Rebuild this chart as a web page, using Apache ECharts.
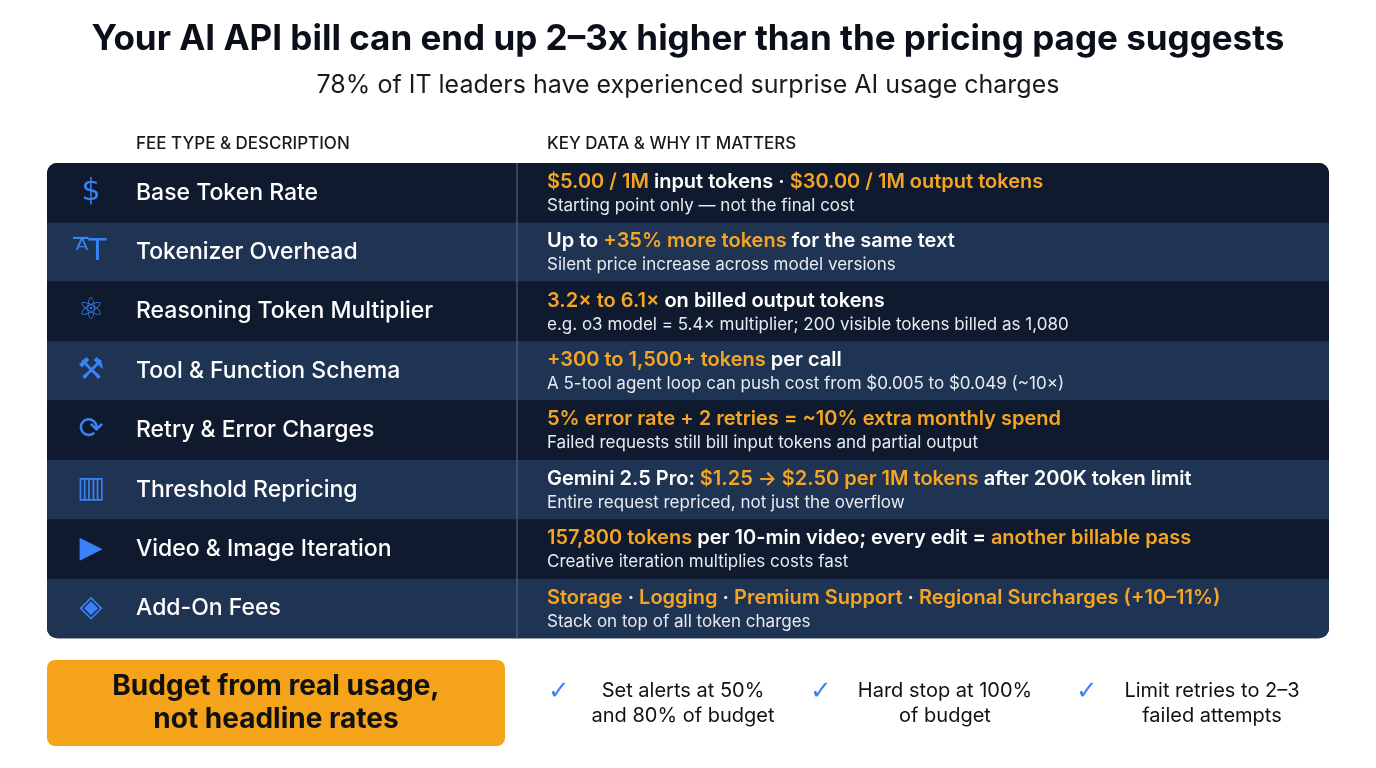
<!DOCTYPE html>
<html><head><meta charset="utf-8">
<script src="https://cdn.jsdelivr.net/npm/echarts@6/dist/echarts.min.js"></script>
<style>html,body{margin:0;background:#fff}#c{width:1376px;height:768px}</style>
</head><body><div id="c"></div>
<script>
const title = "Your AI API bill can end up 2–3x higher than the pricing page suggests";
const subtitle = "78% of IT leaders have experienced surprise AI usage charges";
const headers = ["FEE TYPE & DESCRIPTION", "KEY DATA & WHY IT MATTERS"];
const feeTypes = ["Base Token Rate","Tokenizer Overhead","Reasoning Token Multiplier","Tool & Function Schema","Retry & Error Charges","Threshold Repricing","Video & Image Iteration","Add-On Fees"];
const icons = ["$","ᴬ̅T","⚛","⚒","⟳","▥","▶","◈"];
// key line: segments [text, highlighted?]
const keyLines = [
 [["$5.00 / 1M",1],[" input tokens · ",0],["$30.00 / 1M output tokens",1]],
 [["Up to ",0],["+35% more tokens",1],[" for the same text",0]],
 [["3.2× to 6.1×",1],[" on billed output tokens",0]],
 [["+300 to 1,500+ tokens",1],[" per call",0]],
 [["5% error rate + 2 retries = ~10% extra monthly spend",1]],
 [["Gemini 2.5 Pro: ",0],["$1.25 → $2.50 per 1M tokens",1],[" after 200K token limit",0]],
 [["157,800 tokens",1],[" per 10-min video; every edit = ",0],["another billable pass",1]],
 [["Storage",1],[" · ",0],["Logging",1],[" · ",0],["Premium Support",1],[" · ",0],["Regional Surcharges (+10–11%)",1]]
];
const whyLines = ["Starting point only — not the final cost","Silent price increase across model versions","e.g. o3 model = 5.4× multiplier; 200 visible tokens billed as 1,080","A 5-tool agent loop can push cost from $0.005 to $0.049 (~10×)","Failed requests still bill input tokens and partial output","Entire request repriced, not just the overflow","Creative iteration multiplies costs fast","Stack on top of all token charges"];
const callout = "Budget from real usage,\nnot headline rates";
const tips = ["Set alerts at 50%\nand 80% of budget","Hard stop at 100%\nof budget","Limit retries to 2–3\nfailed attempts"];

const F = "Inter, 'Noto Sans', sans-serif";
const top0 = 163, rowH = 59.4, L = 47, R = 1329, DIV = 517;
const g = [];
g.push({type:'text',left:'center',top:22,style:{text:title,font:`bold 35px ${F}`,fill:'#0b0f19'}});
g.push({type:'text',left:'center',top:73,style:{text:subtitle,font:`25px ${F}`,fill:'#1a1a1a'}});
g.push({type:'text',x:136,y:135,style:{text:headers[0],font:`500 17px ${F}`,fill:'#1a1a1a'}});
g.push({type:'text',x:547,y:135,style:{text:headers[1],font:`500 17px ${F}`,fill:'#1a1a1a'}});
g.push({type:'rect',shape:{x:L,y:top0,width:R-L,height:rowH*8,r:10},style:{fill:'#0f1a2e'}});
feeTypes.forEach((f,i)=>{
  const y=top0+i*rowH, cy=y+rowH/2;
  const fill = i%2 ? '#1f3353' : '#0f1a2e';
  const r = i===0?[10,10,0,0]:(i===7?[0,0,10,10]:0);
  g.push({type:'rect',shape:{x:L,y:y,width:R-L,height:rowH,r:r},style:{fill:fill}});
  g.push({type:'text',x:91,y:cy,style:{text:icons[i],font:`30px 'DejaVu Sans', sans-serif`,fill:'#3b82f6',align:'center',verticalAlign:'middle'}});
  g.push({type:'text',x:136,y:cy,style:{text:f,font:`500 23px ${F}`,fill:'#ffffff',verticalAlign:'middle'}});
  const rich={h:{fill:'#f5a524',font:`600 20px ${F}`},n:{fill:'#ffffff',font:`600 20px ${F}`}};
  const txt=keyLines[i].map(s=>`{${s[1]?'h':'n'}|${s[0]}}`).join('');
  g.push({type:'text',x:547,y:cy-11,style:{text:txt,rich:rich,verticalAlign:'middle'}});
  g.push({type:'text',x:547,y:cy+13,style:{text:whyLines[i],font:`17px ${F}`,fill:'#e8ecf2',verticalAlign:'middle'}});
});
g.push({type:'line',shape:{x1:DIV,y1:top0,x2:DIV,y2:top0+rowH*8},style:{stroke:'#5a6b85',lineWidth:1}});
g.push({type:'rect',shape:{x:47,y:660,width:458,height:86,r:8},style:{fill:'#f5a31a'}});
g.push({type:'text',x:276,y:703,style:{text:callout,font:`bold 28px ${F}`,fill:'#111',align:'center',verticalAlign:'middle',lineHeight:33}});
const tx=[548,810,1076], tcx=[683,945,1212];
tips.forEach((t,i)=>{
  g.push({type:'text',x:tx[i],y:692,style:{text:'✓',font:`26px 'DejaVu Sans'`,fill:'#3b82f6',verticalAlign:'middle'}});
  g.push({type:'text',x:tcx[i],y:703,style:{text:t,font:`20px ${F}`,fill:'#111',align:'center',verticalAlign:'middle',lineHeight:25}});
});
const chart=echarts.init(document.getElementById('c'));
chart.setOption({graphic:{elements:g}});
</script></body></html>
